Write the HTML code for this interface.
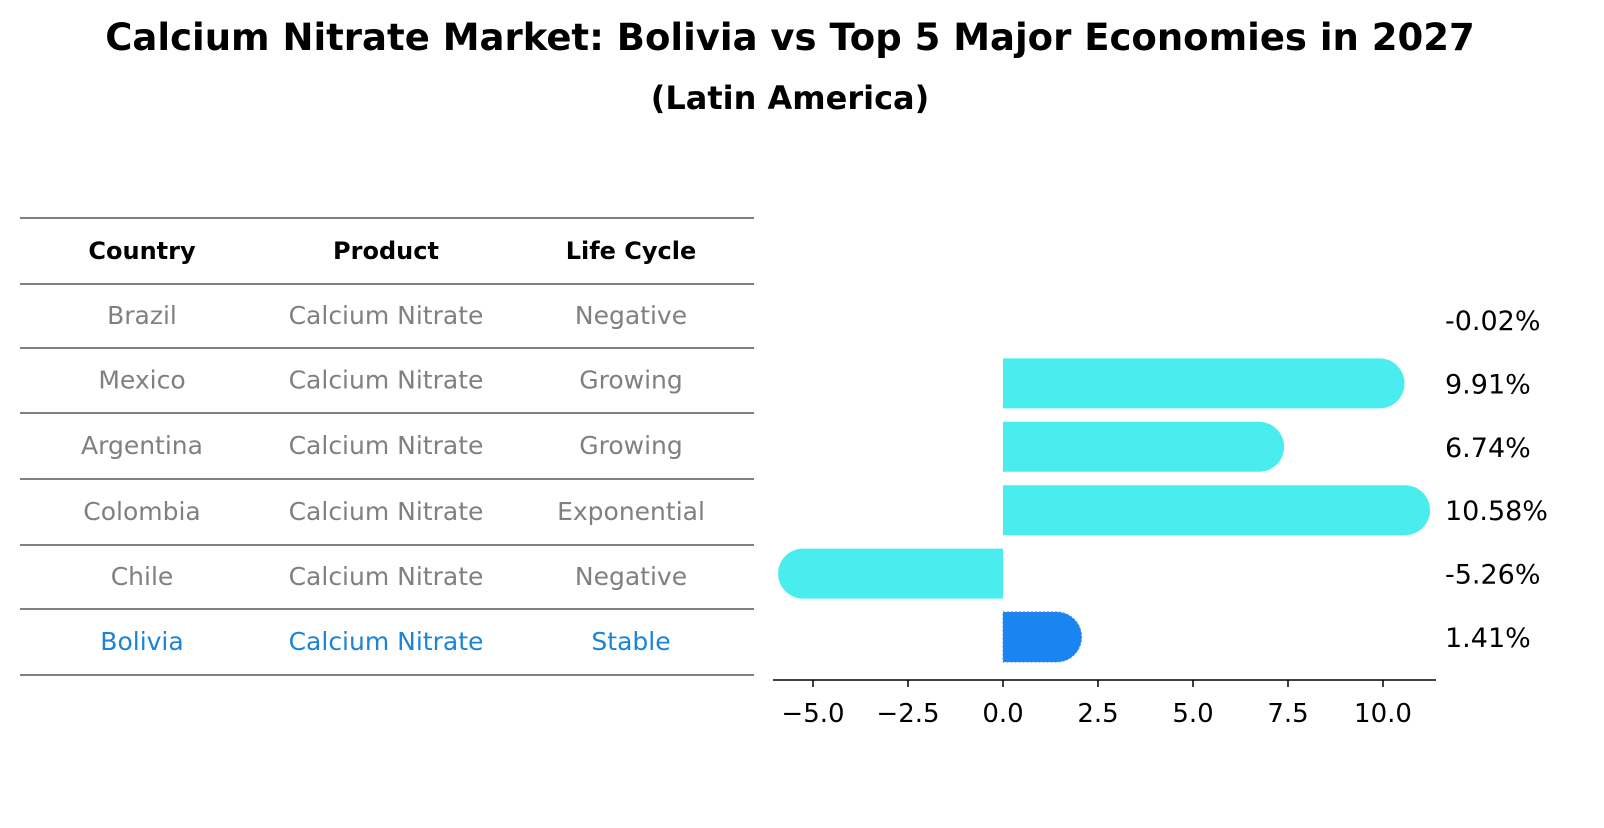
<!DOCTYPE html>
<html><head><meta charset="utf-8"><style>
body{margin:0;background:#fff;font-family:"Liberation Sans","DejaVu Sans",sans-serif;}
svg text{font-family:"DejaVu Sans","Liberation Sans",sans-serif;}
</style></head><body>
<svg width="1604" height="823" xmlns="http://www.w3.org/2000/svg" id="chart">
<text x="790" y="50" text-anchor="middle" font-size="37" font-weight="bold">Calcium Nitrate Market: Bolivia vs Top 5 Major Economies in 2027</text>
<text x="790" y="109" text-anchor="middle" font-size="32" font-weight="bold">(Latin America)</text>
<g id="table"></g>
<g id="bars"></g>
</svg>
<script>
const countries=["Brazil","Mexico","Argentina","Colombia","Chile","Bolivia"];
const products=["Calcium Nitrate","Calcium Nitrate","Calcium Nitrate","Calcium Nitrate","Calcium Nitrate","Calcium Nitrate"];
const lifeCycles=["Negative","Growing","Growing","Exponential","Negative","Stable"];
const growth=[-0.02,9.91,6.74,10.58,-5.26,1.41];
const ticks=[-5.0,-2.5,0.0,2.5,5.0,7.5,10.0];
const NS="http://www.w3.org/2000/svg";
function mk(tag,attrs,parent,text){const e=document.createElementNS(NS,tag);for(const k in attrs)e.setAttribute(k,attrs[k]);if(text!==undefined)e.textContent=text;parent.appendChild(e);return e;}
const tbl=document.getElementById('table');
const lines=[218,284,348,413,479,545,609,675];
lines.forEach((y,i)=>{const l=mk('line',{x1:20,x2:754,y1:y,y2:y,stroke:'#000','stroke-width':1},tbl);

});
const colX=[142,386,631];
["Country","Product","Life Cycle"].forEach((h,i)=>{const t=mk('text',{x:colX[i],y:259,'text-anchor':'middle','font-size':24,'font-weight':'bold'},tbl,h);

});
countries.forEach((c,r)=>{const y=(lines[r+1]+lines[r+2])/2+8;const col=c==="Bolivia"?"#1a84d8":"#808080";
[c,products[r],lifeCycles[r]].forEach((v,i)=>{const t=mk('text',{x:colX[i],y:y,'text-anchor':'middle','font-size':25,fill:col},tbl,v);

});});
const g=document.getElementById('bars');
const x=v=>1003+v*38;
const yc=i=>320+i*63.4;
const h=50,rad=25;
growth.forEach((v,i)=>{const cy=yc(i);const x0=x(0),x1=x(v);const col=countries[i]==="Bolivia"?"#1a84f0":"#4aeded";
if(Math.abs(x1-x0)>2){let d;
if(v>=0)d=`M${x0},${cy-h/2} L${x1},${cy-h/2} A${rad},${rad} 0 0 1 ${x1},${cy+h/2} L${x0},${cy+h/2} Z`;
else d=`M${x0},${cy-h/2} L${x1},${cy-h/2} A${rad},${rad} 0 0 0 ${x1},${cy+h/2} L${x0},${cy+h/2} Z`;
const p=mk('path',{d:d,fill:col},g);
if(countries[i]==="Bolivia"){p.setAttribute('stroke','#3a8ee0');p.setAttribute('stroke-dasharray','2,2');}

}
const t=mk('text',{x:1445,y:cy+10,'font-size':27},g,v.toFixed(2)+'%');

});
const ax=mk('line',{x1:773,x2:1436,y1:680,y2:680,stroke:'#000','stroke-width':1.5},g);


ticks.forEach(v=>{const tl=mk('line',{x1:x(v),x2:x(v),y1:680,y2:687,stroke:'#000','stroke-width':1.5},g);


const t=mk('text',{x:x(v),y:722,'text-anchor':'middle','font-size':26},g,v.toFixed(1).replace('-','\u2212'));

});
</script>
</body></html>
